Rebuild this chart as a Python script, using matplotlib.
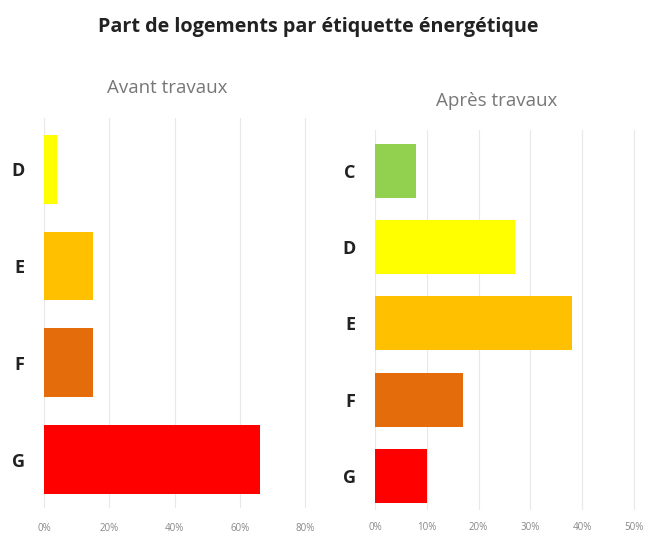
import matplotlib
matplotlib.use("Agg")
import matplotlib.pyplot as plt
from matplotlib.ticker import FuncFormatter

plt.rcParams['font.family'] = ['Open Sans', 'DejaVu Sans']

title = "Part de logements par étiquette énergétique"
before_labels = ["D", "E", "F", "G"]
before_values = [0.04, 0.15, 0.15, 0.66]
before_colors = ["#FFFF00", "#FFC000", "#E46C0A", "#FF0000"]
after_labels = ["C", "D", "E", "F", "G"]
after_values = [0.08, 0.27, 0.38, 0.17, 0.10]
after_colors = ["#92D050", "#FFFF00", "#FFC000", "#E46C0A", "#FF0000"]
before_ticks = [0, 0.2, 0.4, 0.6, 0.8]
after_ticks = [0, 0.1, 0.2, 0.3, 0.4, 0.5]

W, H = 645, 536
fig = plt.figure(figsize=(W / 100, H / 100), dpi=100)

def ax_px(x0, y0, x1, y1):
    return fig.add_axes([x0 / W, 1 - y1 / H, (x1 - x0) / W, (y1 - y0) / H])

def style(ax, labels, values, colors, ticks, xmax, ylim, ypad, xpad):
    pos = list(range(len(labels)))
    ax.barh(pos, values, height=0.71, color=colors, zorder=2)
    ax.set_xlim(0, xmax)
    ax.set_ylim(*ylim)
    ax.set_xticks(ticks)
    ax.xaxis.set_major_formatter(FuncFormatter(lambda v, p: f"{round(v*100)}%"))
    ax.set_yticks(pos)
    ax.set_yticklabels(labels, fontsize=13, fontweight='bold', color='#222222')
    ax.tick_params(axis='y', length=0, pad=ypad)
    ax.tick_params(axis='x', length=0, pad=xpad, labelsize=7, labelcolor='#888888')
    ax.grid(axis='x', color='#e8e8e8', linewidth=0.8, zorder=0)
    for s in ax.spines.values():
        s.set_visible(False)

ax1 = ax_px(44, 118, 312, 508)
style(ax1, before_labels, before_values, before_colors, before_ticks, 0.82, (3.5, -0.53), 14, 11)
ax2 = ax_px(375, 130, 639, 510)
style(ax2, after_labels, after_values, after_colors, after_ticks, 0.51, (4.45, -0.54), 14, 9)

fig.text(318 / W, 1 - 27 / H, title, ha='center', va='center', fontsize=14.2,
         fontweight='bold', color='#222222')
fig.text(167 / W, 1 - 88 / H, "Avant travaux", ha='center', va='center', fontsize=13.5, color='#777777')
fig.text(497 / W, 1 - 101 / H, "Après travaux", ha='center', va='center', fontsize=13.5, color='#777777')

fig.savefig("out.png", dpi=100)
